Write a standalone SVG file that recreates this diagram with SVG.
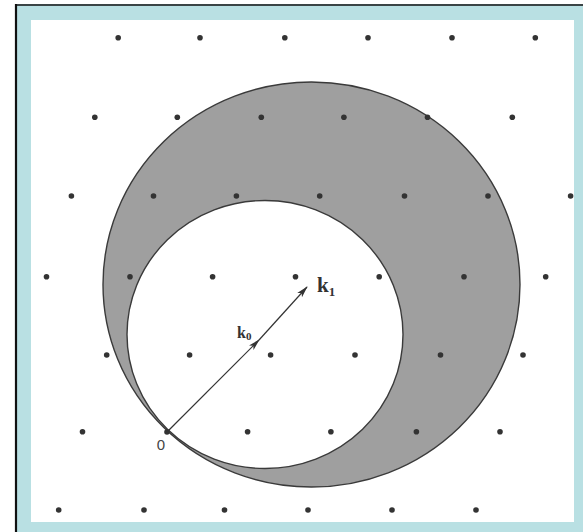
<svg xmlns="http://www.w3.org/2000/svg" width="583" height="532" viewBox="0 0 583 532">
  <style>
    .dot { fill: #333; }
    .rim { fill: none; stroke: #3a3a3a; stroke-width: 1.4; }
    .vec { stroke: #333; stroke-width: 1.2; fill: none; }
    .lab { font-family: "Liberation Serif", serif; font-weight: bold; fill: #333; }
    .orig { font-family: "Liberation Sans", sans-serif; fill: #444; }
  </style>
  <defs>
    <marker id="ah" viewBox="0 0 12 8" refX="11" refY="4" markerWidth="12" markerHeight="8" markerUnits="userSpaceOnUse" orient="auto">
      <path d="M0,0.8 L12,4 L0,7.2 L3,4 Z" fill="#333"/>
    </marker>
  </defs>
  <!-- frame -->
  <rect x="0" y="0" width="583" height="532" fill="#ffffff"/>
  <rect x="15" y="4" width="568" height="528" fill="#b9e0e3"/>
  <line x1="16" y1="4" x2="16" y2="532" stroke="#111" stroke-width="2.2"/>
  <line x1="15" y1="5" x2="583" y2="5" stroke="#111" stroke-width="1.5"/>
  <rect x="31" y="20" width="543" height="502" fill="#ffffff"/>

  <!-- crescent region -->
  <g id="region">
    <path d="M103,284.5 A208.5,202.5 0 1,0 520,284.5 A208.5,202.5 0 1,0 103,284.5 Z M127,334.5 A138,134 0 1,0 403,334.5 A138,134 0 1,0 127,334.5 Z" fill="#9f9f9f" fill-rule="evenodd"/>
    <ellipse class="rim" cx="311.5" cy="284.5" rx="208.5" ry="202.5"/>
    <ellipse class="rim" cx="265" cy="334.5" rx="138" ry="134"/>
  </g>

  <!-- lattice points -->
  <g id="lattice">
    <circle class="dot" cx="118.2" cy="37.7" r="2.8"/>
    <circle class="dot" cx="200" cy="37.7" r="2.8"/>
    <circle class="dot" cx="284.8" cy="37.7" r="2.8"/>
    <circle class="dot" cx="368" cy="37.7" r="2.8"/>
    <circle class="dot" cx="452" cy="37.7" r="2.8"/>
    <circle class="dot" cx="535.3" cy="37.7" r="2.8"/>

    <circle class="dot" cx="94.8" cy="117.3" r="2.8"/>
    <circle class="dot" cx="177.3" cy="117.3" r="2.8"/>
    <circle class="dot" cx="261.3" cy="117.3" r="2.8"/>
    <circle class="dot" cx="343.9" cy="117.3" r="2.8"/>
    <circle class="dot" cx="427.5" cy="117.3" r="2.8"/>
    <circle class="dot" cx="512.3" cy="117.3" r="2.8"/>

    <circle class="dot" cx="71.4" cy="196" r="2.8"/>
    <circle class="dot" cx="153.5" cy="196" r="2.8"/>
    <circle class="dot" cx="236.4" cy="196" r="2.8"/>
    <circle class="dot" cx="319.7" cy="196" r="2.8"/>
    <circle class="dot" cx="404.5" cy="196" r="2.8"/>
    <circle class="dot" cx="488" cy="196" r="2.8"/>
    <circle class="dot" cx="570.6" cy="196" r="2.8"/>

    <circle class="dot" cx="46.5" cy="276.7" r="2.8"/>
    <circle class="dot" cx="130" cy="276.7" r="2.8"/>
    <circle class="dot" cx="212.6" cy="276.7" r="2.8"/>
    <circle class="dot" cx="295.5" cy="276.7" r="2.8"/>
    <circle class="dot" cx="379.2" cy="276.7" r="2.8"/>
    <circle class="dot" cx="464" cy="276.7" r="2.8"/>
    <circle class="dot" cx="545.7" cy="276.7" r="2.8"/>

    <circle class="dot" cx="106.7" cy="355" r="2.8"/>
    <circle class="dot" cx="189.6" cy="355" r="2.8"/>
    <circle class="dot" cx="270.6" cy="355" r="2.8"/>
    <circle class="dot" cx="355" cy="355" r="2.8"/>
    <circle class="dot" cx="440.5" cy="355" r="2.8"/>
    <circle class="dot" cx="523" cy="355" r="2.8"/>

    <circle class="dot" cx="82.5" cy="431.7" r="2.8"/>
    <circle class="dot" cx="167" cy="432" r="2.8"/>
    <circle class="dot" cx="247.6" cy="431.7" r="2.8"/>
    <circle class="dot" cx="330.9" cy="431.7" r="2.8"/>
    <circle class="dot" cx="416.4" cy="431.7" r="2.8"/>
    <circle class="dot" cx="500" cy="431.7" r="2.8"/>

    <circle class="dot" cx="58.7" cy="510" r="2.8"/>
    <circle class="dot" cx="144" cy="510" r="2.8"/>
    <circle class="dot" cx="224.5" cy="510" r="2.8"/>
    <circle class="dot" cx="308" cy="510" r="2.8"/>
    <circle class="dot" cx="392" cy="510" r="2.8"/>
    <circle class="dot" cx="476" cy="510" r="2.8"/>
  </g>

  <!-- vectors -->
  <g id="connectors">
    <path class="vec" d="M167,432 L259,340" marker-end="url(#ah)"/>
    <path class="vec" d="M259,340 L307,287" marker-end="url(#ah)"/>
  </g>

  <!-- labels -->
  <g id="labels">
    <text class="lab" x="317" y="292" font-size="21">k<tspan font-size="13" dy="4">1</tspan></text>
    <text class="lab" x="237" y="338" font-size="16">k<tspan font-size="11" dy="2">0</tspan></text>
    <text class="orig" x="161" y="450" font-size="15" text-anchor="middle">0</text>
  </g>
</svg>
